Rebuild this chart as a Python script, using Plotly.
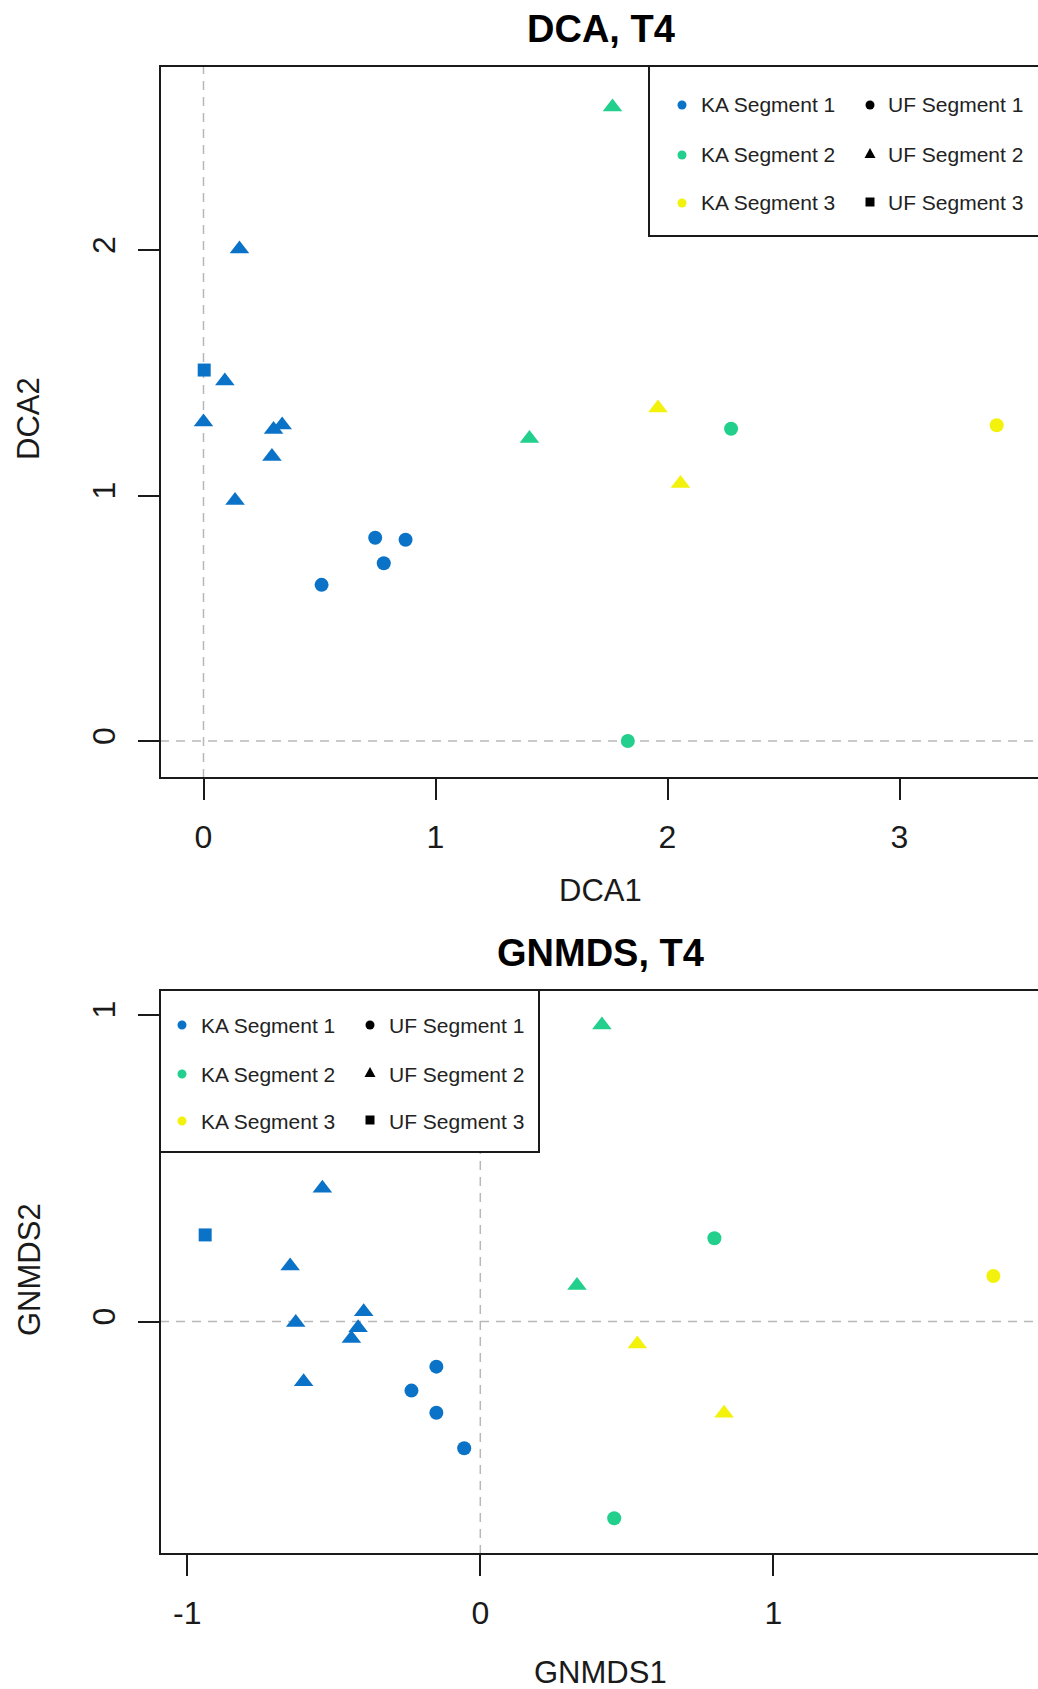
import plotly.graph_objects as go

W, H = 1038, 1689

# ---------------- data ----------------
# DCA ordination, T4
dca_ka1_uf1_x = [0.509, 0.740, 0.871, 0.777]
dca_ka1_uf1_y = [0.636, 0.828, 0.820, 0.724]
dca_ka1_uf2_x = [0.155, 0.092, 0.000, 0.302, 0.339, 0.295, 0.136]
dca_ka1_uf2_y = [2.004, 1.466, 1.299, 1.269, 1.287, 1.159, 0.980]
dca_ka1_uf3_x = [0.003]
dca_ka1_uf3_y = [1.511]
dca_ka2_uf1_x = [2.274, 1.829]
dca_ka2_uf1_y = [1.272, 0.000]
dca_ka2_uf2_x = [1.763, 1.405]
dca_ka2_uf2_y = [2.582, 1.232]
dca_ka3_uf1_x = [3.419]
dca_ka3_uf1_y = [1.286]
dca_ka3_uf2_x = [1.959, 2.056]
dca_ka3_uf2_y = [1.356, 1.049]

# GNMDS ordination, T4
gn_ka1_uf1_x = [-0.150, -0.235, -0.150, -0.055]
gn_ka1_uf1_y = [-0.147, -0.225, -0.297, -0.413]
gn_ka1_uf2_x = [-0.539, -0.649, -0.630, -0.398, -0.417, -0.440, -0.603]
gn_ka1_uf2_y = [0.434, 0.181, -0.003, 0.032, -0.020, -0.055, -0.196]
gn_ka1_uf3_x = [-0.939]
gn_ka1_uf3_y = [0.282]
gn_ka2_uf1_x = [0.799, 0.457]
gn_ka2_uf1_y = [0.271, -0.641]
gn_ka2_uf2_x = [0.415, 0.330]
gn_ka2_uf2_y = [0.966, 0.117]
gn_ka3_uf1_x = [1.751]
gn_ka3_uf1_y = [0.148]
gn_ka3_uf2_x = [0.536, 0.832]
gn_ka3_uf2_y = [-0.073, -0.299]

ka_labels = ["KA Segment 1", "KA Segment 2", "KA Segment 3"]
uf_labels = ["UF Segment 1", "UF Segment 2", "UF Segment 3"]
dca_xticks = [0, 1, 2, 3]
dca_yticks = [0, 1, 2]
gn_xticks = [-1, 0, 1]
gn_xtick_text = ["-1", "0", "1"]
gn_yticks = [0, 1]

# ---------------- styles ----------------
KA_COLORS = ["#0b73c7", "#22cf8c", "#f2f20c"]
UF_SYMBOLS = ["circle", "triangle-up", "square"]
UF_SIZES = [14, 17, 13]
FONT = "Liberation Sans, Arial, sans-serif"
INK = "#1a1a1a"

fig = go.Figure()


def add_series(x, y, ka, uf, xa, ya):
    fig.add_trace(go.Scatter(
        x=x, y=y, mode="markers", xaxis=xa, yaxis=ya, showlegend=False,
        marker=dict(color=KA_COLORS[ka], symbol=UF_SYMBOLS[uf],
                    size=UF_SIZES[uf], line=dict(width=0)),
        hoverinfo="skip"))


dca_series = [
    (dca_ka1_uf1_x, dca_ka1_uf1_y, 0, 0), (dca_ka1_uf2_x, dca_ka1_uf2_y, 0, 1),
    (dca_ka1_uf3_x, dca_ka1_uf3_y, 0, 2), (dca_ka2_uf1_x, dca_ka2_uf1_y, 1, 0),
    (dca_ka2_uf2_x, dca_ka2_uf2_y, 1, 1), (dca_ka3_uf1_x, dca_ka3_uf1_y, 2, 0),
    (dca_ka3_uf2_x, dca_ka3_uf2_y, 2, 1)]
gn_series = [
    (gn_ka1_uf1_x, gn_ka1_uf1_y, 0, 0), (gn_ka1_uf2_x, gn_ka1_uf2_y, 0, 1),
    (gn_ka1_uf3_x, gn_ka1_uf3_y, 0, 2), (gn_ka2_uf1_x, gn_ka2_uf1_y, 1, 0),
    (gn_ka2_uf2_x, gn_ka2_uf2_y, 1, 1), (gn_ka3_uf1_x, gn_ka3_uf1_y, 2, 0),
    (gn_ka3_uf2_x, gn_ka3_uf2_y, 2, 1)]

for x, y, ka, uf in dca_series:
    add_series(x, y, ka, uf, "x", "y")
for x, y, ka, uf in gn_series:
    add_series(x, y, ka, uf, "x2", "y2")


def px(v):
    return v / W


def py(v):
    return 1 - v / H


# plot frames (pixel layout)
LEFT = 160
TOP1, BOT1 = 66, 778
TOP2, BOT2 = 990, 1554
RIGHT_FRAME = 1041

axis_common = dict(showgrid=False, zeroline=False, showline=False,
                   ticks="outside", ticklen=21, tickwidth=2, tickcolor=INK,
                   tickfont=dict(family=FONT, size=32, color=INK),
                   automargin=False, fixedrange=True)

fig.update_layout(
    width=W, height=H, margin=dict(l=0, r=0, t=0, b=0),
    paper_bgcolor="white", plot_bgcolor="white", template="none",
    showlegend=False,
    xaxis=dict(domain=[px(LEFT), 1], range=[-0.1875, 3.597], anchor="y",
               tickvals=dca_xticks, ticktext=[str(v) for v in dca_xticks],
               ticklabelstandoff=10, **axis_common),
    yaxis=dict(domain=[py(BOT1), py(TOP1)], range=[-0.1507, 2.7495], anchor="x",
               tickvals=dca_yticks, ticktext=[str(v) for v in dca_yticks],
               tickangle=-90, ticklabelstandoff=10, **axis_common),
    xaxis2=dict(domain=[px(LEFT), 1], range=[-1.0932, 1.9034], anchor="y2",
                tickvals=gn_xticks, ticktext=gn_xtick_text,
                ticklabelstandoff=10, **axis_common),
    yaxis2=dict(domain=[py(BOT2), py(TOP2)], range=[-0.7573, 1.0798], anchor="x2",
                tickvals=gn_yticks, ticktext=[str(v) for v in gn_yticks],
                tickangle=-90, ticklabelstandoff=10, **axis_common),
)

shapes = []
# dashed zero lines
for xa, ya in (("x", "y"), ("x2", "y2")):
    shapes.append(dict(type="line", xref=xa, yref=ya + " domain", x0=0, x1=0, y0=0, y1=1,
                       line=dict(color="#b8b8b8", width=1.5, dash="9px,7px"), layer="below"))
    shapes.append(dict(type="line", xref=xa + " domain", yref=ya, x0=0, x1=1, y0=0, y1=0,
                       line=dict(color="#b8b8b8", width=1.5, dash="9px,7px"), layer="below"))
# frames
for top, bot in ((TOP1, BOT1), (TOP2, BOT2)):
    shapes.append(dict(type="rect", xref="paper", yref="paper",
                       x0=px(LEFT), x1=px(RIGHT_FRAME), y0=py(bot), y1=py(top),
                       line=dict(color=INK, width=2), fillcolor="rgba(0,0,0,0)", layer="above"))

annotations = []


def legend(box, rows, col1_marker, col1_text, col2_marker, col2_text):
    x0, x1, y0, y1 = box
    shapes.append(dict(type="rect", xref="paper", yref="paper",
                       x0=px(x0), x1=px(x1), y0=py(y1), y1=py(y0),
                       line=dict(color=INK, width=2), fillcolor="white", layer="above"))
    for i, ry in enumerate(rows):
        # KA colour dot
        shapes.append(dict(type="circle", xref="paper", yref="paper",
                           xsizemode="pixel", ysizemode="pixel",
                           xanchor=px(col1_marker), yanchor=py(ry),
                           x0=-4.5, x1=4.5, y0=-4.5, y1=4.5,
                           fillcolor=KA_COLORS[i], line=dict(width=0), layer="above"))
        annotations.append(dict(xref="paper", yref="paper", x=px(col1_text), y=py(ry),
                                xanchor="left", yanchor="middle", showarrow=False,
                                text=ka_labels[i],
                                font=dict(family=FONT, size=21, color="#222")))
        # UF symbol
        if UF_SYMBOLS[i] == "circle":
            shapes.append(dict(type="circle", xref="paper", yref="paper",
                               xsizemode="pixel", ysizemode="pixel",
                               xanchor=px(col2_marker), yanchor=py(ry),
                               x0=-4.5, x1=4.5, y0=-4.5, y1=4.5,
                               fillcolor="black", line=dict(width=0), layer="above"))
        elif UF_SYMBOLS[i] == "triangle-up":
            shapes.append(dict(type="path", xref="paper", yref="paper",
                               xsizemode="pixel", ysizemode="pixel",
                               xanchor=px(col2_marker), yanchor=py(ry - 1),
                               path="M-5.5,-4 L5.5,-4 L0,6 Z",
                               fillcolor="black", line=dict(width=0), layer="above"))
        else:
            shapes.append(dict(type="rect", xref="paper", yref="paper",
                               xsizemode="pixel", ysizemode="pixel",
                               xanchor=px(col2_marker), yanchor=py(ry - 1),
                               x0=-4.5, x1=4.5, y0=-4.5, y1=4.5,
                               fillcolor="black", line=dict(width=0), layer="above"))
        annotations.append(dict(xref="paper", yref="paper", x=px(col2_text), y=py(ry),
                                xanchor="left", yanchor="middle", showarrow=False,
                                text=uf_labels[i],
                                font=dict(family=FONT, size=21, color="#222")))


legend((649, 1045, 66, 236), [105, 155, 203], 682, 699, 870, 886)
legend((160, 539, 990, 1152), [1025, 1074, 1121], 182, 199, 370, 387)

# titles and axis labels
center_x = (LEFT + RIGHT_FRAME) / 2
annotations += [
    dict(xref="paper", yref="paper", x=px(center_x), y=py(29), text="<b>DCA, T4</b>",
         showarrow=False, xanchor="center", yanchor="middle",
         font=dict(family=FONT, size=38, color="black")),
    dict(xref="paper", yref="paper", x=px(center_x), y=py(953), text="<b>GNMDS, T4</b>",
         showarrow=False, xanchor="center", yanchor="middle",
         font=dict(family=FONT, size=38, color="black")),
    dict(xref="paper", yref="paper", x=px(center_x), y=py(890), text="DCA1",
         showarrow=False, xanchor="center", yanchor="middle",
         font=dict(family=FONT, size=31, color=INK)),
    dict(xref="paper", yref="paper", x=px(center_x), y=py(1672), text="GNMDS1",
         showarrow=False, xanchor="center", yanchor="middle",
         font=dict(family=FONT, size=31, color=INK)),
    dict(xref="paper", yref="paper", x=px(29), y=py(419), text="DCA2", textangle=-90,
         showarrow=False, xanchor="center", yanchor="middle",
         font=dict(family=FONT, size=31, color=INK)),
    dict(xref="paper", yref="paper", x=px(29), y=py(1270), text="GNMDS2", textangle=-90,
         showarrow=False, xanchor="center", yanchor="middle",
         font=dict(family=FONT, size=31, color=INK)),
]

fig.update_layout(shapes=shapes, annotations=annotations)
fig.write_html("out.html", config={"displayModeBar": False})
